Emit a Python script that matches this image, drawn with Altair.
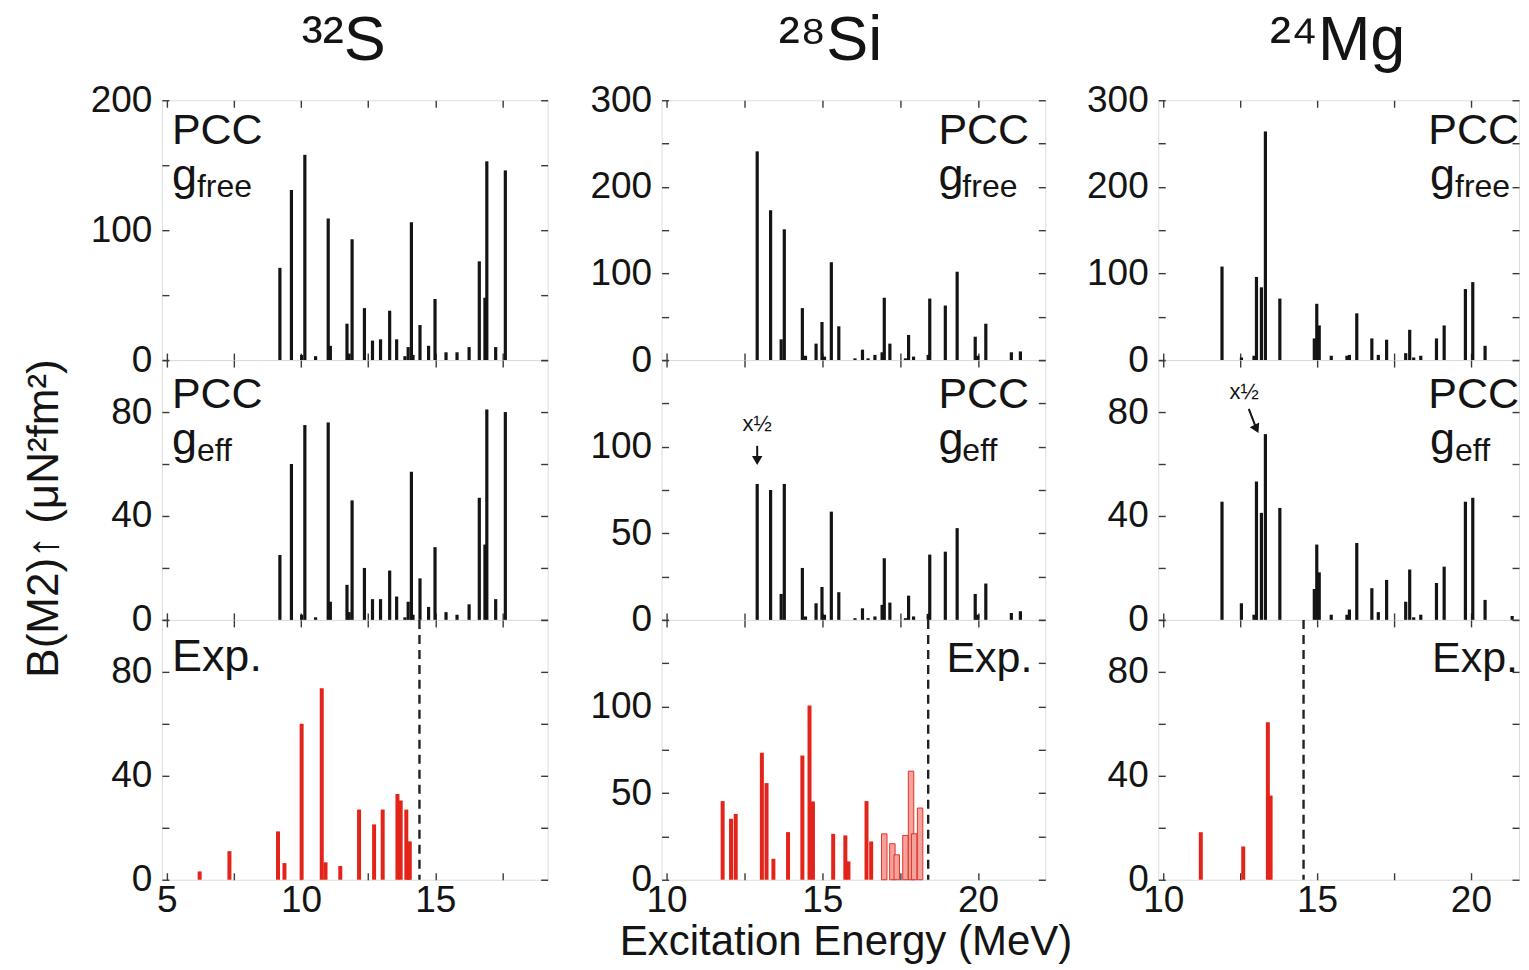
import altair as alt
import pandas as pd

FONT = "Liberation Sans"
INK = "#141414"
RED = "#e2241b"
PINK = "#f2a39c"
FRAME = "#3a3a3a"
TICK = 7
H = 260

# ---------------- data ----------------
# 32S : PCC strengths (same level energies for g_free and g_eff)
S_E = [9.21, 9.64, 10.02, 10.14, 10.54, 11.01, 11.09, 11.71, 11.79, 11.90,
       12.36, 12.66, 12.96, 13.30, 13.56, 13.87, 13.99, 14.11, 14.17, 14.43,
       14.75, 14.99, 15.40, 15.81, 16.26, 16.64, 16.85, 16.92, 17.25, 17.61]
S_FREE = [71, 131, 4, 158, 3, 109, 11, 28, 5, 93,
          40, 15, 16, 38, 16, 3, 10, 106, 4, 27,
          11, 47, 6, 6, 10, 76, 48, 153, 10, 146]
S_EFF = [25, 60, 2, 75, 1, 76, 7, 13.5, 3, 46,
         20, 8, 8, 19, 9, 1, 7, 57, 2, 16,
         5, 28, 3, 2, 6, 47, 29, 81, 8, 80]
S_EXP_E = [6.22, 7.33, 9.14, 9.38, 10.02, 10.77, 10.91, 11.46, 12.16, 12.72,
           13.04, 13.59, 13.71, 13.92, 13.99, 14.05]
S_EXP_B = [3.2, 11, 18.6, 6.4, 60, 73.7, 6.7, 5.3, 27, 21.3,
           27, 33, 30.5, 27, 14.7, 14.7]
S_LIMIT = 14.41

# 28Si
SI_E = [12.91, 13.34, 13.68, 13.78, 14.36, 14.46, 14.80, 14.99, 15.07, 15.29,
        15.53, 16.05, 16.29, 16.47, 16.69, 16.92, 16.99, 17.17, 17.67, 17.77,
        17.93, 18.40, 18.45, 18.95, 19.33, 19.91, 19.99, 20.25, 21.07, 21.36]
SI_FREE = [241, 173, 24, 151, 60, 5, 19, 44, 4, 113,
           39, 2, 12, 2, 6, 9, 72, 19, 2, 29,
           4, 6, 71, 63, 102, 27, 5, 42, 9, 10]
SI_EFF = [78.5, 75, 15, 78.5, 30, 2, 9.6, 19, 3, 62.5,
          16, 1, 6.7, 1, 2, 8.7, 35.6, 10, 1, 14,
          2, 3.5, 37.7, 39.4, 53, 15, 3, 21, 4, 5]
SI_EXP_E = [11.80, 12.07, 12.22, 13.06, 13.21, 13.43, 13.90, 14.36, 14.59, 14.70,
            15.35, 15.74, 15.84, 16.42, 16.57]
SI_EXP_B = [45.4, 35.2, 38, 73.3, 55.8, 12.1, 27.5, 71.7, 100.6, 45.2,
            26.5, 25.6, 10.6, 45.4, 22.1]
SI_TENT_E = [16.99, 17.25, 17.39, 17.67, 17.85, 17.95, 18.14]
SI_TENT_B = [26.5, 20.8, 14.4, 25.6, 62.7, 26.5, 41.4]
SI_LIMIT = 18.40

# 24Mg
MG_E = [11.91, 12.54, 12.95, 13.03, 13.19, 13.32, 13.79, 14.91, 14.99, 15.07,
        15.46, 15.97, 16.05, 16.29, 16.78, 16.99, 17.26, 17.88, 18.01, 18.14,
        18.37, 18.88, 19.13, 19.82, 20.06, 20.46, 21.34]
MG_FREE = [108, 3, 5, 96, 84, 264, 71, 25, 65, 40,
           5, 5, 6, 54, 25, 6, 23.5, 8, 35, 3,
           5, 25, 40, 82, 90, 16.5, 0]
MG_EFF = [45.5, 6.4, 2, 53.3, 41.2, 71.5, 43.1, 11.9, 29, 18.3,
          2, 2, 4, 29.6, 12.2, 3, 15.4, 7, 19.4, 1,
          2, 14.2, 20.5, 45.5, 47, 7.7, 1.5]
MG_EXP_E = [11.22, 12.60, 13.40, 13.49]
MG_EXP_B = [18.3, 12.8, 60.6, 32.4]
MG_LIMIT = 14.56

# "x1/2" markers (energy, label level, arrow start, arrow end)
SI_HALF = {"E": [12.91], "lab": [113.0], "a1": [100.5], "a2": [92.0]}
MG_HALF = {"E": [12.63], "x1": [12.78], "E2": [13.03], "lab": [87.7], "a1": [81.2], "a2": [73.5]}

S_TICKS = [5, 7.5, 10, 12.5, 15, 17.5]
SM_TICKS = [10, 12.5, 15, 17.5, 20]


# ---------------- helpers ----------------
def xaxis(values, orient, labels, title=None, title_x=None, title_y=None):
    kw = dict(orient=orient, values=values, offset=-TICK, tickSize=TICK, tickWidth=1.4,
              tickColor=FRAME, domain=False, grid=False, labels=labels)
    if labels:
        kw.update(labelExpr="datum.value % 5 == 0 ? datum.label : ''", labelFont=FONT,
                  labelFontSize=37, labelColor=INK, labelPadding=3, labelFlush=False,
                  labelOverlap=False)
    if title:
        kw.update(title=title, titleFont=FONT, titleFontSize=42, titleFontWeight="normal",
                  titleColor=INK, titleX=title_x, titleY=title_y, titleAlign="center",
                  titleBaseline="alphabetic")
    else:
        kw["title"] = None
    return alt.Axis(**kw)


def yaxis(values, orient, label_expr=None, title=None):
    kw = dict(orient=orient, values=values, offset=-TICK, tickSize=TICK, tickWidth=1.4,
              tickColor=FRAME, domain=False, grid=False, labels=label_expr is not None)
    if label_expr is not None:
        kw.update(labelExpr=label_expr, labelFont=FONT, labelFontSize=37, labelColor=INK,
                  labelPadding=10, labelFlush=False, labelOverlap=False)
    if title:
        kw.update(title=title, titleFont=FONT, titleFontSize=44, titleFontWeight="normal",
                  titleColor=INK, titleAngle=270, titleAlign="center",
                  titleBaseline="middle", titleX=-124, titleY=158)
    else:
        kw["title"] = None
    return alt.Axis(**kw)


def label(text, x, y, size, align="left"):
    return alt.Chart(pd.DataFrame({"t": [text]})).mark_text(
        align=align, baseline="alphabetic", font=FONT, fontSize=size, color=INK, clip=True
    ).encode(x=alt.value(x), y=alt.value(y), text="t:N")


def panel(series, xdom, ydom, width, xticks, yticks, ylab_expr, texts,
          xlabels=False, xtitle=None, ytitle=None, limit=None, extras=()):
    xs = alt.Scale(domain=xdom, nice=False, zero=False)
    ys = alt.Scale(domain=ydom, nice=False)
    first = series[0]
    mirror = alt.Chart(pd.DataFrame({"E": first[0], "B": first[1]})).mark_bar(
        opacity=0, size=2
    ).encode(
        x=alt.X("E:Q", scale=xs, axis=xaxis(xticks, "top", False)),
        y=alt.Y("B:Q", scale=ys, stack=None, axis=yaxis(yticks, "right")),
    )
    layers = [mirror]
    for i, (E, B, style) in enumerate(series):
        df = pd.DataFrame({"E": E, "B": B})
        if i == 0:
            xa = xaxis(xticks, "bottom", xlabels, xtitle, 184, 82)
            ya = yaxis(yticks, "left", ylab_expr, ytitle)
        else:
            xa, ya = None, None
        layers.append(alt.Chart(df).mark_bar(**style).encode(
            x=alt.X("E:Q", scale=xs, axis=xa),
            y=alt.Y("B:Q", scale=ys, stack=None, axis=ya),
        ))
    if limit is not None:
        layers.append(alt.Chart(pd.DataFrame({"E": [limit]})).mark_rule(
            strokeDash=[9, 6], strokeWidth=2.4, color="#222"
        ).encode(x=alt.X("E:Q", scale=xs, axis=None)))
    for ex in extras:
        layers.append(ex(xs, ys))
    layers += texts
    return alt.layer(*layers).resolve_axis(x="independent", y="independent").properties(
        width=width, height=H)


BLK = dict(size=3.2, color=INK)
REDS = dict(size=4.0, color=RED)
TENT = dict(size=5.5, fill=PINK, stroke=RED, strokeWidth=0.9)


def half_si(xs, ys):
    df = pd.DataFrame(SI_HALF)
    shaft = alt.Chart(df).mark_rule(strokeWidth=2, color=INK).encode(
        x=alt.X("E:Q", scale=xs, axis=None), y=alt.Y("a1:Q", scale=ys, axis=None), y2="a2:Q")
    head = alt.Chart(df).mark_point(shape="triangle-down", filled=True, size=110,
                                    color=INK, opacity=1).encode(
        x=alt.X("E:Q", scale=xs, axis=None), y=alt.Y("a2:Q", scale=ys, axis=None))
    txt = alt.Chart(df).mark_text(text="x½", font=FONT, fontSize=22, color=INK,
                                  baseline="middle").encode(
        x=alt.X("E:Q", scale=xs, axis=None), y=alt.Y("lab:Q", scale=ys, axis=None))
    return alt.layer(shaft, head, txt)


def half_mg(xs, ys):
    df = pd.DataFrame(MG_HALF)
    shaft = alt.Chart(df).mark_rule(strokeWidth=2, color=INK).encode(
        x=alt.X("x1:Q", scale=xs, axis=None), x2="E2:Q",
        y=alt.Y("a1:Q", scale=ys, axis=None), y2="a2:Q")
    head = alt.Chart(df).mark_point(shape="triangle-down", filled=True, size=110,
                                    color=INK, opacity=1, angle=334).encode(
        x=alt.X("E2:Q", scale=xs, axis=None), y=alt.Y("a2:Q", scale=ys, axis=None))
    txt = alt.Chart(df).mark_text(text="x½", font=FONT, fontSize=22, color=INK,
                                  baseline="middle").encode(
        x=alt.X("E:Q", scale=xs, axis=None), y=alt.Y("lab:Q", scale=ys, axis=None))
    return alt.layer(shaft, head, txt)


def title(text, dx):
    return alt.TitleParams(text=text, font=FONT, fontSize=63, fontWeight="normal",
                           color=INK, anchor="middle", baseline="alphabetic",
                           offset=-42, dx=dx)


W1, W2, W3 = 386, 384, 361
L100 = "datum.value % 100 == 0 ? datum.label : ''"
L40 = "datum.value % 40 == 0 && datum.value < 100 ? datum.label : ''"
L50 = "datum.value % 50 == 0 && datum.value < 150 ? datum.label : ''"
Y200 = [0, 50, 100, 150, 200]
Y300 = [0, 50, 100, 150, 200, 250, 300]
Y100 = [0, 20, 40, 60, 80, 100]
Y150 = [0, 25, 50, 75, 100, 125, 150]
PS, GS, SS = 43, 45, 32

# ---- 32S column
s1 = panel([(S_E, S_FREE, BLK)], [5, 19], [0, 200], W1, S_TICKS, Y200, L100,
           [label("PCC", 10, 44, PS), label("g", 10, 90, GS), label("free", 35, 97, SS)]
           ).properties(title=title("³²S", -11))
s2 = panel([(S_E, S_EFF, BLK)], [5, 19], [0, 100], W1, S_TICKS, Y100, L40,
           [label("PCC", 10, 48, PS), label("g", 10, 94, GS), label("eff", 35, 101, SS)],
           ytitle="B(M2)↑ (μN²fm²)")
s3 = panel([(S_EXP_E, S_EXP_B, REDS)], [5, 19], [0, 100], W1, S_TICKS, Y100, L40,
           [label("Exp.", 10, 51, 45)], xlabels=True, limit=S_LIMIT)

# ---- 28Si column
si1 = panel([(SI_E, SI_FREE, BLK)], [10, 22], [0, 300], W2, SM_TICKS, Y300, L100,
            [label("PCC", 277, 44, PS), label("g", 277, 90, GS), label("free", 301, 97, SS)]
            ).properties(title=title("²⁸Si", -23))
si2 = panel([(SI_E, SI_EFF, BLK)], [10, 22], [0, 150], W2, SM_TICKS, Y150, L50,
            [label("PCC", 277, 48, PS), label("g", 277, 94, GS), label("eff", 301, 101, SS)],
            extras=[half_si])
si3 = panel([(SI_EXP_E, SI_EXP_B, REDS), (SI_TENT_E, SI_TENT_B, TENT)], [10, 22], [0, 150],
            W2, SM_TICKS, Y150, L50, [label("Exp.", 285, 52, PS)], xlabels=True,
            xtitle="Excitation Energy (MeV)", limit=SI_LIMIT)

# ---- 24Mg column
MG_DOM = [10, 21.4]
mg1 = panel([(MG_E, MG_FREE, BLK)], MG_DOM, [0, 300], W3, SM_TICKS, Y300, L100,
            [label("PCC", W3, 44, PS, "right"), label("g", 272, 90, GS),
             label("free", 297, 97, SS)]
            ).properties(title=title("²⁴Mg", -1))
mg2 = panel([(MG_E, MG_EFF, BLK)], MG_DOM, [0, 100], W3, SM_TICKS, Y100, L40,
            [label("PCC", W3, 48, PS, "right"), label("g", 272, 94, GS),
             label("eff", 297, 101, SS)], extras=[half_mg])
mg3 = panel([(MG_EXP_E, MG_EXP_B, REDS)], MG_DOM, [0, 100], W3, SM_TICKS, Y100, L40,
            [label("Exp.", W3 - 1, 52, PS, "right")], xlabels=True, limit=MG_LIMIT)


def column(a, b, c):
    return alt.vconcat(a, b, c, spacing=0, bounds="flush").resolve_scale(
        x="independent", y="independent")


left_pair = alt.hconcat(column(s1, s2, s3), column(si1, si2, si3), spacing=39).resolve_scale(
    x="independent", y="independent")
chart = alt.hconcat(left_pair, column(mg1, mg2, mg3), spacing=13).resolve_scale(
    x="independent", y="independent"
).properties(
    padding={"left": 14, "top": 1, "right": 0, "bottom": 0}
).configure_view(stroke=FRAME, strokeWidth=1.6).configure(font=FONT)

chart.save("out.html", embed_options={"renderer": "svg", "actions": False})
